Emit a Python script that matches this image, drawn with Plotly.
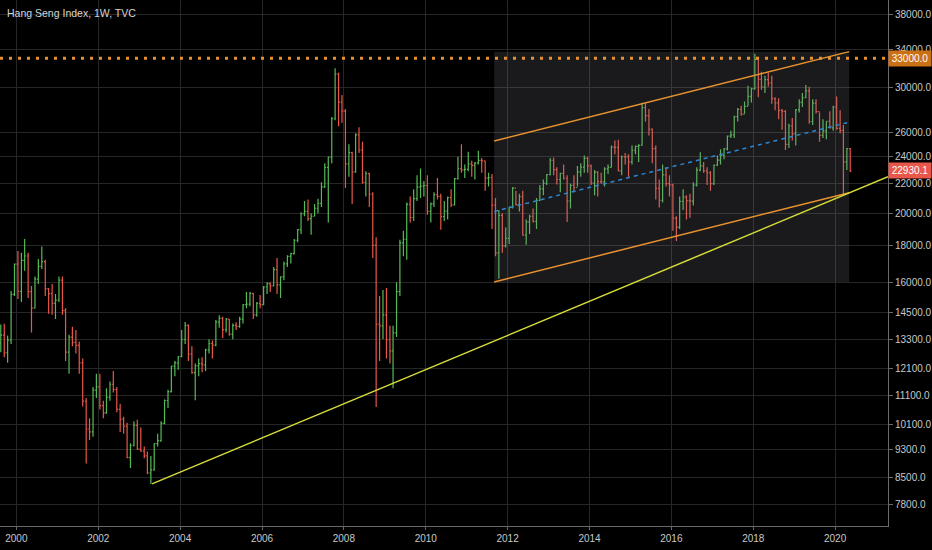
import math
import pandas as pd
import plotly.graph_objects as go

# monthly bars, Aug 1999 .. May 2020
first_open = 13140
high = [
    13950, 13980, 13460, 15550, 17000,  # 1999 Aug-Dec
    17700, 17600, 18400, 17600, 15800, 16300, 17250, 17950, 17200, 15700, 15900, 15400,  # 2000
    16300, 16300, 14700, 13500, 13850, 13700, 13200, 12500, 11000, 10300, 11400, 11900,  # 2001
    11900, 10900, 11350, 11600, 12000, 11400, 10800, 10350, 10150, 9500, 10200, 10250,  # 2002
    10000, 9400, 9250, 9120, 9500, 9800, 10200, 10950, 11300, 12200, 12400, 12600,  # 2003
    13700, 14060, 13950, 13000, 12300, 12500, 12550, 12900, 13300, 13250, 14150, 14380,  # 2004
    14300, 14250, 14200, 14000, 14050, 14300, 14900, 15500, 15500, 15450, 15000, 15350,  # 2005
    15800, 16000, 16000, 16800, 17300, 16300, 17100, 17450, 17600, 18400, 19000, 20050,  # 2006
    20800, 20900, 20000, 20600, 20950, 22100, 23500, 24000, 27300, 31950, 31500, 29300,  # 2007
    28000, 25000, 24400, 25900, 26400, 25200, 22900, 22800, 21400, 18500, 15300, 15600,  # 2008
    15700, 13900, 13900, 16000, 18350, 18900, 20700, 21100, 21600, 22600, 23100, 22200,  # 2009
    22600, 20700, 21400, 22400, 21300, 20800, 21100, 21600, 22400, 24000, 24990, 23400,  # 2010
    24400, 23700, 23600, 24470, 23900, 23700, 22800, 22700, 21000, 20200, 20000, 19100,  # 2011
    20400, 21760, 21500, 21300, 21500, 19600, 19900, 20300, 21000, 21900, 22300, 22700,  # 2012
    23900, 23950, 23200, 22800, 23400, 22600, 22000, 22600, 23300, 23500, 24100, 24000,  # 2013
    23400, 23000, 22900, 22800, 23200, 23400, 24900, 25300, 25360, 24100, 24300, 24200,  # 2014
    24900, 24900, 25000, 28590, 28600, 28000, 26300, 24900, 22300, 23400, 23200, 22600,  # 2015
    22000, 19800, 21100, 21600, 21200, 21300, 22100, 23200, 24360, 23600, 23200, 22900,  # 2016
    23400, 24100, 24600, 24700, 25700, 26100, 27400, 28100, 28300, 28700, 30200, 30000,  # 2017
    33480, 33000, 31600, 31200, 31500, 31200, 29100, 29000, 28000, 27900, 26700, 27200,  # 2018
    28000, 28900, 29500, 30280, 30100, 28900, 28900, 27700, 27100, 26900, 27800, 28300,  # 2019
    29170, 27900, 26600, 24700, 24700,  # 2020 Jan-May
]
low = [
    12750, 12550, 12330, 13100, 15300,
    15150, 15000, 16600, 15200, 13600, 14700, 15900, 16700, 15300, 14450, 14400, 14200,
    15000, 14400, 12400, 11900, 13000, 12700, 11900, 10700, 8900, 9600, 9700, 11000,
    10600, 10300, 10450, 10900, 11200, 10500, 9850, 9800, 9050, 8770, 9400, 9300,
    9250, 9050, 8600, 8330, 8700, 9400, 9550, 10100, 10650, 11200, 11800, 12050,
    12550, 13100, 12400, 11900, 10920, 11800, 11950, 12000, 12700, 12500, 13000, 13800,
    13350, 13600, 13450, 13300, 13700, 13800, 14000, 14700, 14800, 14200, 14300, 14700,
    14850, 15400, 15500, 15800, 15400, 15200, 16100, 16800, 17000, 17500, 18200, 18700,
    19800, 19500, 18650, 19800, 20000, 20400, 21700, 19400, 23500, 27000, 26500, 26800,
    21700, 22500, 20600, 22800, 24300, 22000, 21100, 20400, 17300, 10680, 12400, 13300,
    12500, 12300, 11350, 13400, 15300, 17400, 17200, 19400, 19500, 20800, 21000, 21100,
    19900, 19400, 20400, 20900, 18950, 19500, 19600, 20400, 20500, 22300, 22800, 22400,
    22900, 22500, 22300, 23400, 22800, 21500, 21800, 19000, 17400, 16170, 17600, 17900,
    18100, 20300, 20500, 20100, 18600, 18060, 18700, 19400, 19000, 20800, 21200, 21900,
    22600, 22600, 21950, 21400, 22300, 19430, 20300, 21400, 21800, 22500, 22800, 22800,
    21900, 21200, 21100, 22000, 21800, 22700, 23200, 24200, 22900, 22600, 23400, 22500,
    23400, 24200, 23600, 24900, 26900, 25700, 23500, 20900, 20370, 20700, 21800, 21100,
    18900, 18280, 19000, 20200, 19600, 19700, 20500, 21800, 22900, 22800, 21900, 21500,
    21900, 23300, 23400, 23800, 24500, 25500, 25500, 26900, 27400, 27600, 28300, 28600,
    29800, 29100, 29800, 29500, 30100, 28500, 27900, 27100, 26200, 24540, 24700, 25300,
    24900, 27700, 28200, 29000, 26700, 26600, 27600, 25200, 25500, 25400, 26300, 26100,
    26200, 25900, 21140, 23000, 22850,
]
close = [
    13480, 12730, 13260, 15380, 16960,
    15530, 17170, 17410, 15520, 14710, 16160, 16840, 17100, 15650, 15420, 14940, 15100,
    16100, 14590, 12760, 13390, 13170, 13040, 12320, 10890, 9950, 9860, 11280, 11400,
    10730, 10480, 11030, 11500, 11300, 10600, 10270, 10040, 9070, 9440, 10070, 9320,
    9260, 9120, 8630, 8720, 9490, 9580, 10130, 10910, 11230, 12190, 12320, 12580,
    13290, 13910, 12680, 11940, 12200, 12290, 12240, 12850, 13120, 13050, 14060, 14230,
    13720, 14200, 13520, 13910, 13870, 14200, 14880, 14900, 15430, 14390, 14940, 14880,
    15750, 15920, 15810, 16660, 15860, 16270, 16970, 17390, 17540, 18320, 18960, 19960,
    20110, 19650, 19800, 20320, 20640, 21770, 23180, 23980, 27140, 31350, 28640, 27810,
    23460, 24330, 22850, 25760, 24530, 22100, 22730, 21260, 18020, 13970, 13890, 14390,
    13280, 12810, 13580, 15520, 18170, 18380, 20570, 19720, 20960, 21750, 21820, 21870,
    20120, 20610, 21240, 21110, 19770, 20130, 21030, 20540, 22360, 23100, 23010, 23040,
    23450, 23340, 23530, 23720, 23680, 22400, 22440, 20530, 17590, 19860, 17990, 18430,
    20390, 21680, 20560, 21090, 18630, 19440, 19800, 19480, 20840, 21640, 22030, 22660,
    23730, 23020, 22300, 22740, 22390, 20800, 21880, 21730, 22860, 23210, 23880, 23310,
    22040, 22840, 22150, 22130, 23080, 23190, 24760, 24740, 22930, 24000, 23990, 23610,
    24510, 24820, 24900, 28130, 27420, 26250, 24640, 21670, 20850, 22640, 22000, 21910,
    19680, 19110, 20780, 21070, 20820, 20790, 21890, 22980, 23300, 22930, 22790, 22000,
    23360, 23740, 24110, 24620, 25660, 25760, 27320, 27970, 27550, 28250, 29180, 29920,
    32890, 30840, 30090, 30810, 30470, 28960, 28580, 27890, 27790, 24980, 26510, 25850,
    27940, 28630, 29050, 29700, 26900, 28540, 27780, 25720, 26090, 26910, 26350, 28190,
    26310, 26130, 23600, 24640, 22930.1,
]
open_ = [first_open] + close[:-1]
months = pd.date_range("1999-08-01", periods=len(close), freq="MS") + pd.Timedelta(days=14)

# drawings
trend_dates = ["2003-04-25", "2021-04-17"]
trend_prices = [8332, 22500]
chan_dates = ["2011-09-03", "2020-05-06"]
chan_top = [25260, 33720]
chan_mid = [20110, 26845]
chan_bot = [16010, 21370]
resist_level = 33000
last_price = 22930.1

y_ticks = [7800, 8500, 9300, 10100, 11100, 12100, 13300, 14500, 16000,
           18000, 20000, 22000, 24000, 26000, 30000, 34000, 38000]
x_start, x_end = "1999-08-08", "2021-04-17"

orange = "#e8922e"
grid = "#262626"

fig = go.Figure()

# channel box
fig.add_trace(go.Scatter(
    x=[chan_dates[0], chan_dates[1], chan_dates[1], chan_dates[0], chan_dates[0]],
    y=[chan_bot[0], chan_bot[0], chan_top[1], chan_top[1], chan_bot[0]],
    fill="toself", fillcolor="rgba(130,130,140,0.2)", line=dict(width=0),
    mode="lines", hoverinfo="skip"))

fig.add_trace(go.Ohlc(
    x=months, open=open_, high=high, low=low, close=close,
    increasing=dict(line=dict(color="#55bb55", width=1.2)),
    decreasing=dict(line=dict(color="#e8574a", width=1.2)),
    tickwidth=0.4))

fig.add_trace(go.Scatter(x=chan_dates, y=chan_top, mode="lines",
                         line=dict(color=orange, width=1.5)))
fig.add_trace(go.Scatter(x=chan_dates, y=chan_bot, mode="lines",
                         line=dict(color=orange, width=1.5)))
fig.add_trace(go.Scatter(x=chan_dates, y=chan_mid, mode="lines",
                         line=dict(color="#2f86d0", width=1.5, dash="4px,4px")))
fig.add_trace(go.Scatter(x=trend_dates, y=trend_prices, mode="lines",
                         line=dict(color="#d4dc3a", width=1.5)))
fig.add_trace(go.Scatter(x=[x_start, x_end], y=[resist_level, resist_level], mode="lines",
                         line=dict(color=orange, width=3, dash="3px,6px")))

fig.update_layout(
    width=932, height=550,
    paper_bgcolor="#000000", plot_bgcolor="#000000",
    margin=dict(l=0, r=44, t=0, b=24),
    showlegend=False,
    font=dict(family="Liberation Sans, sans-serif", size=10, color="#c8c8c8"),
    xaxis=dict(
        type="date", range=[x_start, x_end], rangeslider=dict(visible=False),
        tick0="2000-01-01", dtick="M24", tickformat="%Y",
        showgrid=True, gridcolor=grid, gridwidth=1,
        showline=True, linecolor="#6a6a6a", linewidth=1,
        ticks="outside", ticklen=3, tickcolor="#6a6a6a",
        zeroline=False,
    ),
    yaxis=dict(
        type="log", side="right", range=[3.86156, 4.60043],
        tickvals=y_ticks, ticktext=[f"{v:.1f}" for v in y_ticks],
        showgrid=True, gridcolor=grid, gridwidth=1,
        showline=True, linecolor="#6a6a6a", linewidth=1,
        ticks="outside", ticklen=4, tickcolor="#6a6a6a",
        zeroline=False,
    ),
)

fig.add_annotation(
    xref="paper", yref="paper", x=0.006, y=0.976, xanchor="left", yanchor="middle",
    text="Hang Seng Index, 1W, TVC", showarrow=False,
    font=dict(size=10.5, color="#d6d6d6"))

for price, colour in [(resist_level, "#cc7016"), (last_price, "#e8574a")]:
    fig.add_annotation(
        xref="paper", yref="y", x=1.0, y=math.log10(price), xanchor="left", yanchor="middle",
        text=f"{price:.1f}", showarrow=False, bgcolor=colour, width=40, height=13,
        align="center", font=dict(size=10, color="#ffffff"))

fig.write_html("out.html", config={"displayModeBar": False},
               post_script="document.body.style.margin='0';")
